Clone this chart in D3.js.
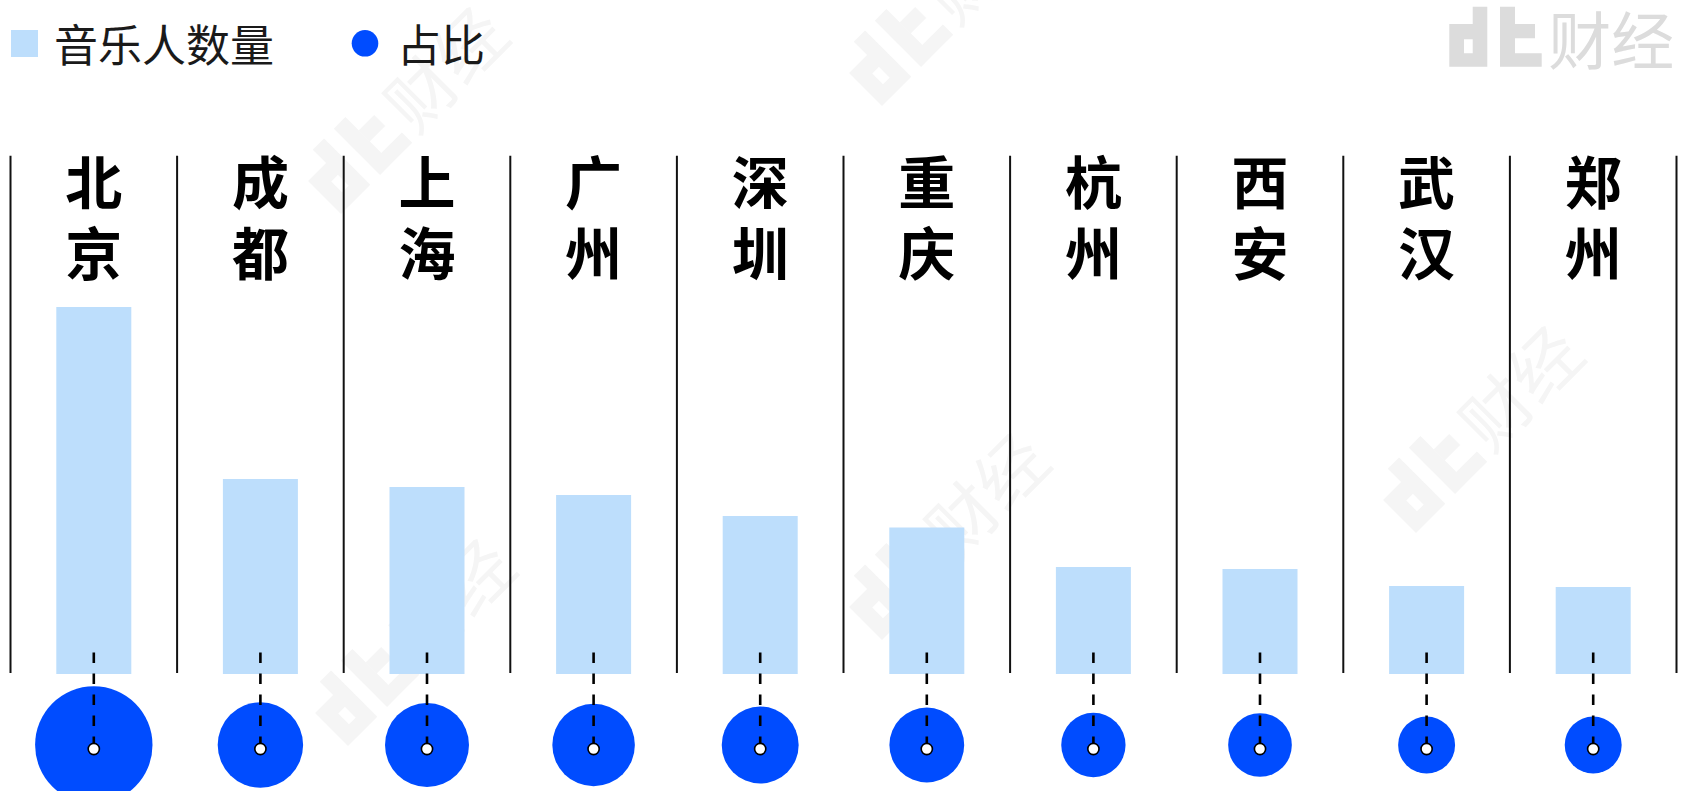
<!DOCTYPE html>
<html>
<head>
<meta charset="utf-8">
<script src="https://cdn.jsdelivr.net/npm/d3@7"></script>
<style>
  html, body { margin: 0; padding: 0; background: #fff; }
  svg { display: block; }
  text { font-family: "Noto Sans CJK SC", "Noto Sans", sans-serif; }
</style>
</head>
<body>
<svg id="chart" width="1681" height="791"></svg>
<script>
// Cities, musician counts (bars) and share of all musicians in % (circles)
const cities = ["北京", "成都", "上海", "广州", "深圳", "重庆", "杭州", "西安", "武汉", "郑州"];
const musicianCounts = [36700, 19500, 18700, 17900, 15800, 14650, 10700, 10500, 8800, 8700];
const shares = [17.0, 9.0, 8.7, 8.4, 7.3, 6.9, 5.1, 5.0, 4.0, 4.0];
const legendLabels = ["音乐人数量", "占比"];
const brandText = "财经";

const barColor = "#bddefc";
const dotColor = "#004cff";

const svg = d3.select("#chart");

// ---- brand mark: blocky "dt." followed by text ----
function brandMark(g, fill) {
  g.append("path")
    .attr("fill", fill)
    .attr("fill-rule", "evenodd")
    .attr("d",
      "M0,0 H38 V-60 H23.4 V-42.7 H0 Z M14.7,-27.4 H23.4 V-13.4 H14.7 Z" +
      "M50.7,-60 H65.7 V0 H50.7 Z" +
      "M65.7,-42.7 H85.7 V-28.4 H65.7 Z" +
      "M65.7,-13.4 H92.4 V0 H65.7 Z");
  g.append("text")
    .attr("x", 99)
    .attr("y", -30)
    .attr("dominant-baseline", "central")
    .attr("font-size", 63)
    .attr("fill", fill)
    .text(brandText);
}

// faint diagonal background marks
const markAnchors = [[341, 214], [882, 106], [1416, 533], [348, 746], [882, 640]];
const wm = svg.append("g");
markAnchors.forEach(([ax, ay]) => {
  const g = wm.append("g").attr("transform", `translate(${ax},${ay}) rotate(-45) scale(1.09)`);
  brandMark(g, "#f5f5f5");
});

// top-right brand mark
brandMark(svg.append("g").attr("transform", "translate(1449.3,66.7)"), "#dcdcdc");

// ---- scales ----
const x = d3.scaleBand().domain(cities).range([10.5, 1676.5]).padding(0);
const baseY = 674;
const y = d3.scaleLinear().domain([0, 40000]).range([baseY, 274]);
const r = d3.scaleSqrt().domain([0, 17]).range([0, 58.7]);
const cx = c => x(c) + x.bandwidth() / 2;
const barW = 75;

const data = cities.map((c, i) => ({ city: c, count: musicianCounts[i], share: shares[i] }));

// column separators
const sepX = cities.map(c => x(c)).concat([x(cities[cities.length - 1]) + x.bandwidth()]);
svg.append("g").selectAll("line").data(sepX).join("line")
  .attr("x1", d => d).attr("x2", d => d)
  .attr("y1", 155.7).attr("y2", 673)
  .attr("stroke", "#111").attr("stroke-width", 2);

// bars
svg.append("g").selectAll("rect").data(data).join("rect")
  .attr("x", d => cx(d.city) - barW / 2)
  .attr("width", barW)
  .attr("y", d => y(d.count))
  .attr("height", d => baseY - y(d.count))
  .attr("fill", barColor);

// city names, one character per line
const labels = svg.append("g").selectAll("text").data(data).join("text")
  .attr("text-anchor", "middle")
  .attr("dominant-baseline", "central")
  .attr("font-size", 57)
  .attr("font-weight", 700)
  .attr("fill", "#000");
labels.each(function(d) {
  const chars = Array.from(d.city);
  d3.select(this).selectAll("tspan").data(chars).join("tspan")
    .attr("x", cx(d.city))
    .attr("y", (ch, j) => 179 + j * 70.5)
    .text(ch => ch);
});

// share circles
const circleY = 745;
svg.append("g").selectAll("circle").data(data).join("circle")
  .attr("cx", d => cx(d.city))
  .attr("cy", circleY)
  .attr("r", d => r(d.share))
  .attr("fill", dotColor);

// dashed connectors
const pinY = 749;
svg.append("g").selectAll("line").data(data).join("line")
  .attr("x1", d => cx(d.city)).attr("x2", d => cx(d.city))
  .attr("y1", 652.5).attr("y2", pinY)
  .attr("stroke", "#000").attr("stroke-width", 2.6)
  .attr("stroke-dasharray", "10.5,10.5");

// pin heads
svg.append("g").selectAll("circle").data(data).join("circle")
  .attr("cx", d => cx(d.city))
  .attr("cy", pinY)
  .attr("r", 5.6)
  .attr("fill", "#fff")
  .attr("stroke", "#000").attr("stroke-width", 1.6);

// ---- legend ----
const lg = svg.append("g");
lg.append("rect").attr("x", 11).attr("y", 30).attr("width", 27).attr("height", 27).attr("fill", barColor);
lg.append("text").attr("x", 54).attr("y", 43).attr("dominant-baseline", "central")
  .attr("font-size", 44).attr("fill", "#1a1a1a").text(legendLabels[0]);
lg.append("circle").attr("cx", 365).attr("cy", 43.3).attr("r", 13.3).attr("fill", dotColor);
lg.append("text").attr("x", 397).attr("y", 43).attr("dominant-baseline", "central")
  .attr("font-size", 44).attr("fill", "#1a1a1a").text(legendLabels[1]);
</script>
</body>
</html>
